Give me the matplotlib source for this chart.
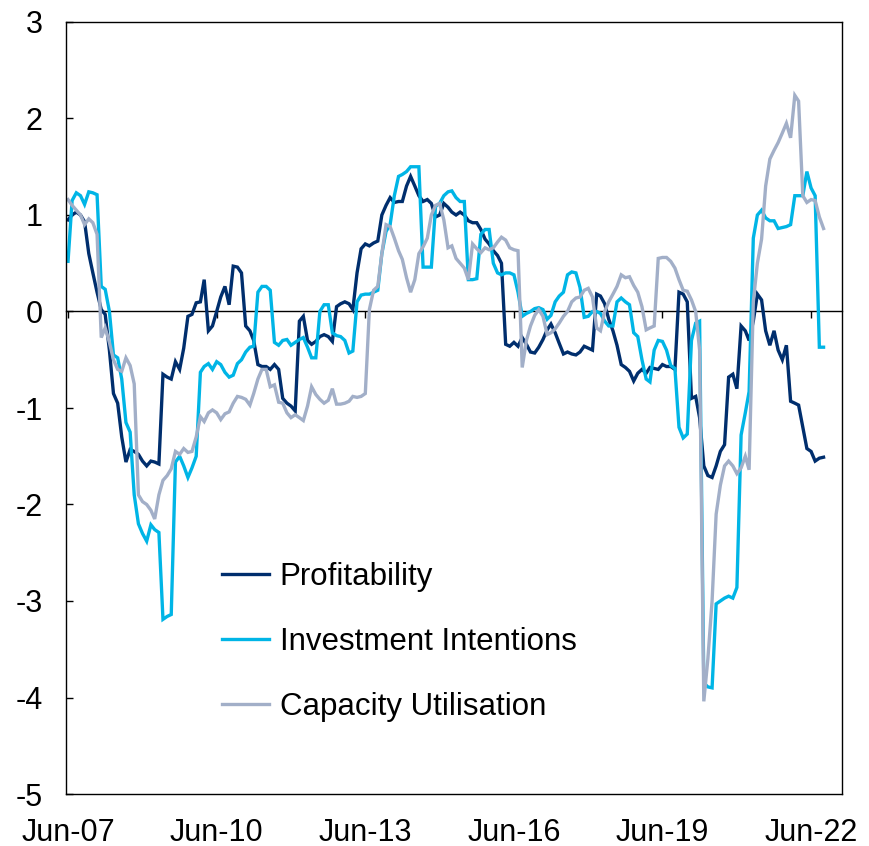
import numpy as np
import pandas as pd
import matplotlib
matplotlib.use("Agg")
import matplotlib.pyplot as plt
import matplotlib.dates as mdates

plt.rcParams["font.family"] = ["Liberation Sans", "DejaVu Sans"]
plt.rcParams["axes.unicode_minus"] = False

# monthly survey balances (standardised), Jun-07 .. Sep-22
profitability = [
    0.95, 1.0, 1.03, 1.0, 0.93, 0.6, 0.4, 0.2, 0.02, -0.03, -0.4, -0.85,
    -0.95, -1.3, -1.56, -1.43, -1.45, -1.48, -1.55, -1.6, -1.55, -1.56, -1.58, -0.65,
    -0.68, -0.7, -0.52, -0.6, -0.38, -0.05, -0.03, 0.09, 0.1, 0.33, -0.2, -0.15,
    0.0, 0.15, 0.26, 0.07, 0.47, 0.46, 0.4, -0.15, -0.2, -0.3, -0.55, -0.57,
    -0.57, -0.6, -0.55, -0.6, -0.9, -0.95, -0.98, -1.03, -0.1, -0.05, -0.3, -0.34,
    -0.31, -0.26, -0.24, -0.26, -0.31, 0.05, 0.08, 0.1, 0.08, 0.02, 0.4, 0.65,
    0.7, 0.68, 0.71, 0.73, 1.0, 1.1, 1.18, 1.13, 1.14, 1.14, 1.3, 1.4,
    1.3, 1.2, 1.14, 1.16, 1.12, 0.98, 1.0, 1.12, 1.08, 1.03, 1.0, 1.03,
    1.0, 0.94, 0.92, 0.92, 0.85, 0.75, 0.7, 0.63, 0.58, 0.5, -0.34, -0.36,
    -0.32, -0.36, -0.27, -0.34, -0.42, -0.43, -0.37, -0.29, -0.19, -0.13, -0.22, -0.33,
    -0.44, -0.42, -0.44, -0.45, -0.42, -0.36, -0.38, -0.4, 0.18, 0.16, 0.08, -0.08,
    -0.2, -0.35, -0.55, -0.58, -0.62, -0.72, -0.64, -0.6, -0.64, -0.58, -0.59, -0.6,
    -0.55, -0.57, -0.57, -0.6, 0.2, 0.18, 0.1, -0.9, -0.88, -1.1, -1.6, -1.7,
    -1.72, -1.6, -1.45, -1.38, -0.68, -0.65, -0.8, -0.15, -0.2, -0.3, -0.1, 0.18,
    0.12, -0.2, -0.35, -0.2, -0.4, -0.5, -0.35, -0.93, -0.95, -0.97, -1.2, -1.42,
    -1.45, -1.55, -1.52, -1.51,
]

investment = [
    0.52, 1.15, 1.23, 1.2, 1.11, 1.24, 1.23, 1.21, 0.26, 0.23, 0.0, -0.45,
    -0.48, -0.7, -1.15, -1.25, -1.9, -2.2, -2.3, -2.38, -2.21, -2.26, -2.29, -3.19,
    -3.16, -3.14, -1.56, -1.5, -1.6, -1.72, -1.62, -1.5, -0.63, -0.57, -0.54, -0.6,
    -0.52, -0.55, -0.63, -0.68, -0.66, -0.54, -0.5, -0.42, -0.37, -0.36, 0.2, 0.26,
    0.26, 0.22, -0.32, -0.35, -0.3, -0.29, -0.35, -0.32, -0.29, -0.27, -0.37, -0.48,
    -0.48, 0.0, 0.07, 0.07, -0.22, -0.25, -0.26, -0.3, -0.43, -0.41, 0.1, 0.17,
    0.18, 0.18, 0.2, 0.22, 0.6, 0.83, 0.9, 1.2, 1.4, 1.42, 1.45, 1.5,
    1.5, 1.5, 0.46, 0.46, 0.46, 1.09, 1.12, 1.2, 1.24, 1.25, 1.18, 1.14,
    1.14, 0.33, 0.33, 0.34, 0.8, 0.85, 0.85, 0.5, 0.4, 0.38, 0.4, 0.4,
    0.38, 0.2, -0.05, -0.02, 0.0, 0.03, 0.04, 0.02, -0.08, -0.04, 0.1, 0.16,
    0.2, 0.38, 0.41, 0.4, 0.25, -0.06, -0.05, 0.0, 0.0, -0.02, -0.1, -0.15,
    -0.15, 0.1, 0.14, 0.1, 0.07, -0.22, -0.26, -0.5, -0.7, -0.73, -0.4, -0.3,
    -0.31, -0.4, -0.56, -0.59, -1.2, -1.31, -1.27, -0.3, -0.12, -0.1, -3.85, -3.89,
    -3.9, -3.03, -3.0, -2.97, -2.95, -2.97, -2.86, -1.28, -1.05, -0.83, 0.76, 1.0,
    1.05, 0.97, 0.94, 0.94, 0.86, 0.87, 0.88, 0.9, 1.2, 1.2, 1.2, 1.45,
    1.28, 1.2, -0.37, -0.37,
]

capacity = [
    1.16, 1.1, 1.05, 1.0, 0.9, 0.96, 0.92, 0.8, -0.27, -0.17, -0.32, -0.5,
    -0.6, -0.62, -0.48, -0.56, -0.75, -1.9, -1.97, -2.0, -2.06, -2.15, -1.9, -1.75,
    -1.7, -1.63, -1.45, -1.48, -1.42, -1.46, -1.45, -1.3, -1.09, -1.14, -1.05, -1.02,
    -1.05, -1.12, -1.06, -1.04, -0.95, -0.88, -0.89, -0.91, -0.97, -0.85, -0.7, -0.6,
    -0.6, -0.78, -0.76, -0.94, -0.95, -1.05, -1.1, -1.07, -1.1, -1.13, -0.98, -0.78,
    -0.86, -0.91, -0.95, -0.92, -0.8, -0.96, -0.96, -0.95, -0.93, -0.88, -0.89, -0.88,
    -0.85, 0.02, 0.22, 0.26, 0.6, 0.9, 0.88, 0.76, 0.63, 0.54, 0.35, 0.2,
    0.33, 0.6, 0.67, 0.76, 1.0, 1.1, 1.12, 0.95, 0.66, 0.68, 0.55, 0.5,
    0.45, 0.33, 0.7, 0.65, 0.61, 0.66, 0.64, 0.66, 0.72, 0.77, 0.74, 0.66,
    0.64, 0.63, -0.58, -0.3, -0.15, -0.04, 0.02, -0.05, -0.24, -0.22, -0.18, -0.12,
    -0.05, 0.0, 0.1, 0.14, 0.15, 0.22, 0.24, 0.15, -0.17, -0.2, 0.0, 0.1,
    0.18, 0.26, 0.38, 0.35, 0.36, 0.27, 0.2, 0.05, -0.19, -0.17, -0.15, 0.55,
    0.56, 0.56, 0.52, 0.45, 0.33, 0.22, 0.21, 0.12, 0.0, -0.4, -4.04, -3.6,
    -3.0, -2.1, -1.8, -1.6, -1.55, -1.6, -1.68, -1.62, -1.5, -1.64, 0.1, 0.5,
    0.75, 1.3, 1.58, 1.67, 1.75, 1.85, 1.95, 1.8, 2.24, 2.18, 1.2, 1.13,
    1.16, 1.15, 0.98, 0.86,
]

series_names = ["Profitability", "Investment Intentions", "Capacity Utilisation"]
series_colors = ["#002E6D", "#00B5E6", "#A2AFC8"]

tick_dates = pd.date_range("2007-06-01", "2022-06-01", freq="36MS")
tick_labels = [d.strftime("%b-%y") for d in tick_dates]
y_ticks = list(range(-5, 4))

fig = plt.figure(figsize=(8.69, 8.46), dpi=100)
ax = fig.add_axes([66 / 869, 52 / 846, 776 / 869, 772 / 846])

for values, name, color in zip([profitability, investment, capacity],
                               series_names, series_colors):
    months = pd.date_range("2007-06-01", periods=len(values), freq="MS")
    ax.plot(months, values, color=color, lw=2.4, label=name,
            solid_joinstyle="miter")

ax.set_xlim(pd.Timestamp("2007-05-17"), pd.Timestamp("2023-01-15"))
ax.set_ylim(-5, 3)

ax.set_xticks(tick_dates)
ax.set_xticklabels(tick_labels)
ax.set_yticks(y_ticks)
ax.set_yticklabels([str(v) for v in y_ticks])
ax.tick_params(axis="x", length=0, pad=17, labelsize=22)
ax.tick_params(axis="y", direction="in", length=5, width=1, pad=17, labelsize=22)

for sp in ax.spines.values():
    sp.set_linewidth(1.0)

# zero line with the date ticks sitting on it
zero_axis = ax.secondary_xaxis(0, transform=ax.transData)
zero_axis.set_xticks(mdates.date2num(tick_dates))
zero_axis.tick_params(axis="x", direction="out", length=5, width=1,
                      labeltop=False, labelbottom=False)
for sp in zero_axis.spines.values():
    sp.set_linewidth(1.0)

ax.legend(loc="upper left", bbox_to_anchor=(0.201, 0.301), frameon=False,
          fontsize=22.5, handlelength=1.5, handletextpad=0.35,
          labelspacing=1.12, borderpad=0, borderaxespad=0)

fig.savefig("out.png", dpi=100)
